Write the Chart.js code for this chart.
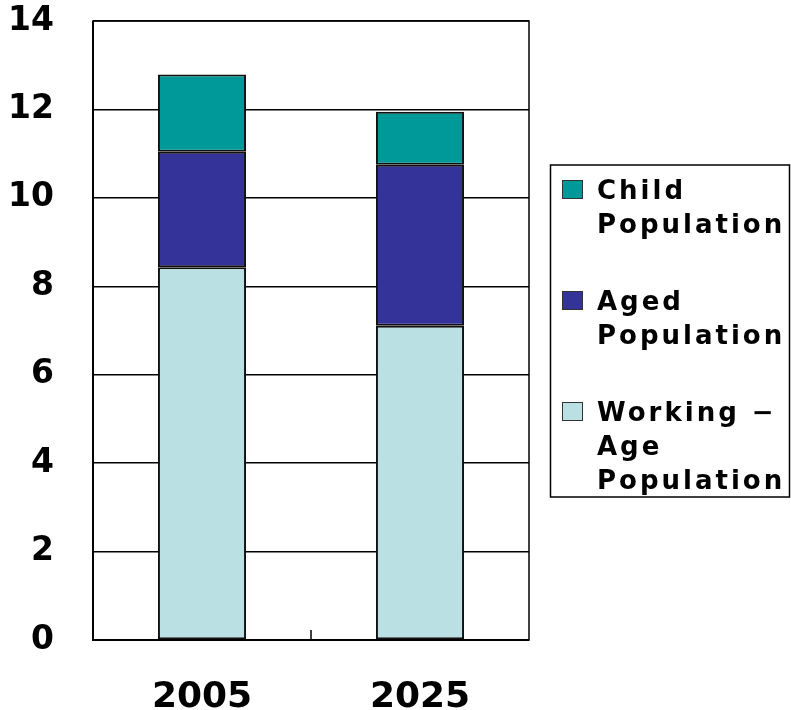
<!DOCTYPE html>
<html>
<head>
<meta charset="utf-8">
<script src="https://cdn.jsdelivr.net/npm/chart.js@4"></script>
<style>
  html, body { margin: 0; padding: 0; background: #fff; }
  #wrap { width: 791px; height: 710px; }
</style>
</head>
<body>
<div id="wrap"><canvas id="grafica"></canvas></div>
<script>
// datos
const years = ['2005', '2025'];
const workingAge = [8.43, 7.11];
const aged = [2.61, 3.64];
const child = [1.75, 1.20];
const yTicks = [0, 2, 4, 6, 8, 10, 12, 14];

const workingLabel = ['Working \u2212', 'Age', 'Population'];
const agedLabel = ['Aged', 'Population'];
const childLabel = ['Child', 'Population'];

// marco del area y marca central del eje x
const marco = {
  id: 'marco',
  afterDatasetsDraw(chart) {
    const { ctx, chartArea: a, scales } = chart;
    ctx.save();
    ctx.strokeStyle = '#000';
    ctx.lineWidth = 1.5;
    ctx.strokeRect(a.left, a.top, a.right - a.left, a.bottom - a.top);
    ctx.lineWidth = 2;
    ctx.beginPath();
    ctx.moveTo(a.left, a.top); ctx.lineTo(a.left, a.bottom); ctx.lineTo(a.right, a.bottom);
    ctx.stroke();
    const x = scales.x;
    for (let i = 0; i < years.length - 1; i++) {
      const px = (x.getPixelForValue(i) + x.getPixelForValue(i + 1)) / 2;
      ctx.lineWidth = 1.5;
      ctx.beginPath();
      ctx.moveTo(px, a.bottom);
      ctx.lineTo(px, a.bottom - 10);
      ctx.stroke();
    }
    ctx.restore();
  }
};

// leyenda dibujada a mano (etiquetas en varias lineas)
const leyenda = {
  id: 'leyenda',
  afterDraw(chart) {
    const ctx = chart.ctx;
    ctx.save();
    ctx.strokeStyle = '#000';
    ctx.lineWidth = 1.5;
    ctx.strokeRect(550.5, 165, 239, 332);
    ctx.font = 'bold 26px "DejaVu Sans"';
    ctx.letterSpacing = '3px';
    ctx.textBaseline = 'alphabetic';
    let y = 199;
    chart.data.datasets.slice().reverse().forEach(ds => {
      ctx.fillStyle = ds.backgroundColor;
      ctx.fillRect(562, y - 19, 21, 19);
      ctx.strokeStyle = '#333';
      ctx.lineWidth = 1;
      ctx.strokeRect(562.5, y - 18.5, 20, 18);
      ctx.fillStyle = '#000';
      ds.label.forEach((line, i) => ctx.fillText(line, 597, y + i * 34));
      y += ds.label.length * 34 + 43;
    });
    ctx.restore();
  }
};

const grafica = document.getElementById('grafica');
new Chart(grafica, {
  type: 'bar',
  data: {
    labels: years,
    datasets: [
      { label: workingLabel, data: workingAge, backgroundColor: '#bbe0e3' },
      { label: agedLabel, data: aged, backgroundColor: '#333399' },
      { label: childLabel, data: child, backgroundColor: '#009999' }
    ].map(ds => Object.assign(ds, {
      borderColor: '#111',
      borderWidth: 2,
      borderSkipped: false,
      categoryPercentage: 1,
      barPercentage: 0.404
    }))
  },
  options: {
    responsive: true,
    maintainAspectRatio: false,
    animation: false,
    layout: { padding: { top: 21, right: 262, left: 0, bottom: 0 } },
    scales: {
      x: {
        stacked: true,
        grid: { display: false },
        border: { display: false },
        ticks: {
          color: '#000',
          padding: 28,
          font: { family: '"DejaVu Sans"', size: 36, weight: 'bold' }
        },
        afterFit: s => { s.height = 70; }
      },
      y: {
        stacked: true,
        min: 0,
        max: 14,
        afterBuildTicks: s => { s.ticks = yTicks.map(v => ({ value: v })); },
        grid: { color: '#000', lineWidth: 1.5, drawTicks: false },
        border: { display: false },
        ticks: {
          color: '#000',
          padding: 39,
          font: { family: '"DejaVu Sans"', size: 33, weight: 'bold' }
        },
        afterFit: s => { s.width = 93; s.paddingTop = 0; s.paddingBottom = 0; }
      }
    },
    plugins: {
      legend: { display: false },
      tooltip: { enabled: false }
    }
  },
  plugins: [marco, leyenda]
});
</script>
</body>
</html>
